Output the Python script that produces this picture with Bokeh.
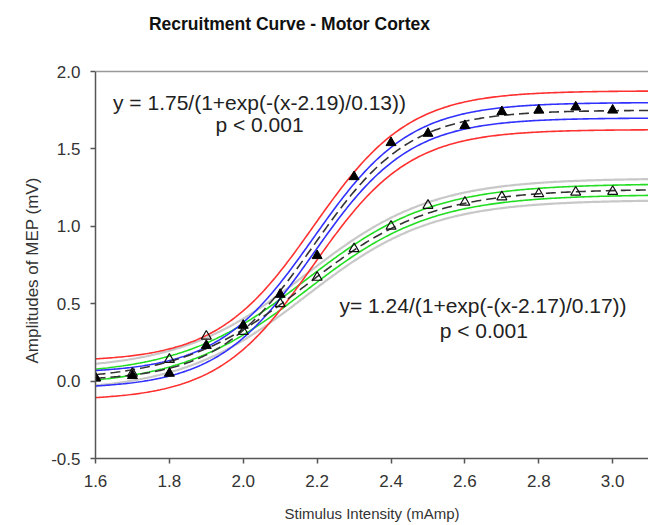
import numpy as np
from bokeh.plotting import figure
from bokeh.models import Label, Span, Range1d, FixedTicker, CustomJSTickFormatter, Title
from bokeh.embed import file_html
from bokeh.resources import INLINE

# ---- data ----
stim = [1.6, 1.7, 1.8, 1.9, 2.0, 2.1, 2.2, 2.3, 2.4, 2.5, 2.6, 2.7, 2.8, 2.9, 3.0]
mep_filled = [0.02, 0.035, 0.05, 0.23, 0.36, 0.56, 0.81, 1.32, 1.54, 1.60, 1.65, 1.74, 1.75, 1.77, 1.75]
mep_open = [0.02, 0.05, 0.14, 0.29, 0.32, 0.50, 0.67, 0.855, 1.00, 1.135, 1.155, 1.19, 1.21, 1.22, 1.225]

# fitted sigmoid parameters shown in the chart: a, x0, b
fit_filled = [1.75, 2.19, 0.13]
fit_open = [1.24, 2.17, 0.17]
# band half-widths (inner confidence, outer prediction)
band_filled = [0.05, 0.125]
band_open = [0.035, 0.07]

x_ticks = [1.6, 1.8, 2.0, 2.2, 2.4, 2.6, 2.8, 3.0]
y_ticks = [-0.5, 0.0, 0.5, 1.0, 1.5, 2.0]

FONT = "Liberation Sans"

# frame extends to the top of the canvas so the title can sit inside it;
# the y axis itself is bounded to -0.5 .. 2.0
p = figure(width=648, height=525, output_backend="svg", toolbar_location=None,
           x_range=Range1d(1.6, 3.097), y_range=Range1d(-0.5, 2.4587),
           min_border_left=95, min_border_right=0, min_border_top=0, min_border_bottom=67)
p.outline_line_color = None
p.grid.grid_line_color = None
p.background_fill_color = "white"
p.border_fill_color = "white"

for ax in (p.xaxis[0], p.yaxis[0]):
    ax.axis_line_color = "#555555"
    ax.axis_line_width = 1.5
    ax.major_tick_line_color = "#555555"
    ax.major_tick_line_width = 1.5
    ax.major_tick_out = 5
    ax.major_tick_in = 0
    ax.minor_tick_line_color = None
    ax.major_label_text_font = FONT
    ax.major_label_text_font_size = "17px"
    ax.major_label_text_color = "#333333"
    ax.axis_label_text_font = FONT
    ax.axis_label_text_font_size = "15px"
    ax.axis_label_text_font_style = "normal"
    ax.axis_label_text_color = "#333333"

p.yaxis.bounds = (-0.5, 2.0)
p.xaxis.ticker = FixedTicker(ticks=x_ticks)
p.yaxis.ticker = FixedTicker(ticks=y_ticks)
p.xaxis.formatter = CustomJSTickFormatter(code="return tick.toFixed(1);")
p.yaxis.formatter = CustomJSTickFormatter(code="return tick.toFixed(1);")
p.xaxis.axis_label = "Stimulus Intensity (mAmp)"
p.xaxis.major_label_standoff = 11
p.xaxis.axis_label_standoff = 15
p.yaxis.major_label_standoff = 10

# y axis title as a side title so it can be centred on the bounded axis
p.add_layout(Title(text="Amplitudes of MEP (mV)", align="left", offset=95,
                   text_font=FONT, text_font_size="17px", text_font_style="normal",
                   text_color="#333333", standoff=14), "left")

p.add_layout(Span(location=2.0, dimension="width", line_color="#999999", line_width=1.5))

xs = np.linspace(1.6, 3.097, 300)


def sigmoid(x, prm):
    a, x0, b = prm
    return a / (1.0 + np.exp(-(x - x0) / b))


# lower (open) series bands
yo = sigmoid(xs, fit_open)
for s in (1, -1):
    p.line(xs, yo + s * band_open[1], line_color="#c8c8c8", line_width=2.2)
for s in (1, -1):
    p.line(xs, yo + s * band_open[0], line_color="#22dd22", line_width=1.6)

# upper (filled) series bands
yf = sigmoid(xs, fit_filled)
for s in (1, -1):
    p.line(xs, yf + s * band_filled[1], line_color="#ff3030", line_width=1.6)
for s in (1, -1):
    p.line(xs, yf + s * band_filled[0], line_color="#3030ff", line_width=1.6)

p.line(xs, yo, line_color="#333333", line_width=1.6, line_dash="10 5")
p.line(xs, yf, line_color="#333333", line_width=1.6, line_dash="10 5")

p.scatter(stim, mep_open, marker="triangle", size=10, fill_alpha=0,
          line_color="#111111", line_width=1.2)
p.scatter(stim, mep_filled, marker="triangle", size=10, fill_color="#000000",
          line_color="#000000")

# chart title
p.add_layout(Label(x=2.125, y=2.31, text="Recruitment Curve - Motor Cortex",
                   text_font=FONT, text_font_size="17.5px", text_font_style="bold",
                   text_color="#111111", text_align="center", text_baseline="middle"))

lab = dict(text_font=FONT, text_font_size="21px", text_color="#222222",
           text_align="center", text_baseline="middle")
p.add_layout(Label(x=2.044, y=1.80, text="y = 1.75/(1+exp(-(x-2.19)/0.13))", **lab))
p.add_layout(Label(x=2.044, y=1.655, text="p < 0.001", **lab))
p.add_layout(Label(x=2.649, y=0.488, text="y= 1.24/(1+exp(-(x-2.17)/0.17))", **lab))
p.add_layout(Label(x=2.651, y=0.327, text="p < 0.001", **lab))

open("out.html", "w").write(file_html(p, INLINE))
